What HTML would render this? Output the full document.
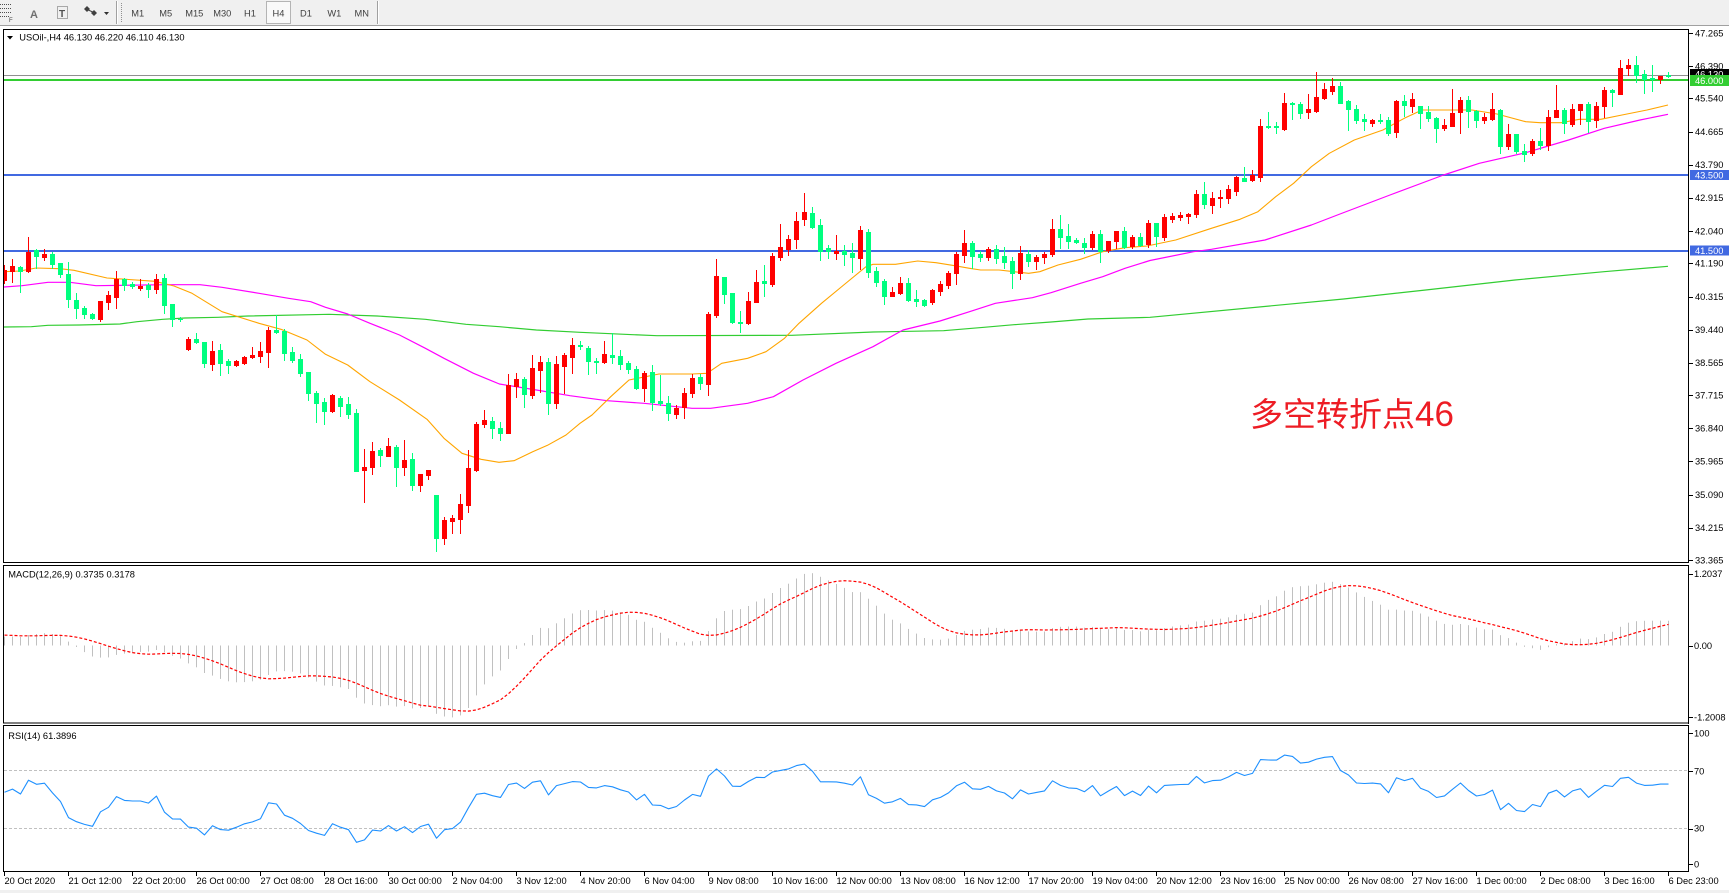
<!DOCTYPE html>
<html><head><meta charset="utf-8"><style>
html,body{margin:0;padding:0;background:#fff;width:1729px;height:893px;overflow:hidden}
svg{display:block}
text{font-family:"Liberation Sans","Noto Sans CJK SC",sans-serif;font-size:9.3px;fill:#000}
.tb{fill:#404040;text-anchor:middle}
</style></head><body>
<svg id="s" width="1729" height="893" viewBox="0 0 1729 893" xmlns="http://www.w3.org/2000/svg">
<defs>
<clipPath id="cm"><rect x="4" y="30" width="1685" height="533"/></clipPath>
<clipPath id="cd"><rect x="4" y="566" width="1685" height="157"/></clipPath>
<clipPath id="cr"><rect x="4" y="726" width="1685" height="146"/></clipPath>
</defs>
<rect x="0" y="0" width="1729" height="893" fill="#fff"/>
<!-- toolbar -->
<rect x="0" y="0" width="1729" height="25" fill="#F0F0F0"/>
<rect x="0" y="25" width="1729" height="1" fill="#A0A0A0"/>
<g stroke="#505050" stroke-width="1" stroke-dasharray="1,1">
<line x1="0" y1="4.5" x2="12" y2="4.5"/><line x1="0" y1="8.5" x2="12" y2="8.5"/><line x1="0" y1="12.5" x2="12" y2="12.5"/><line x1="0" y1="16.5" x2="9" y2="16.5"/>
</g>
<text x="9" y="22" style="font-size:6px;fill:#404040">F</text>
<text x="30" y="18" style="font-size:11px;fill:#707070;font-weight:bold">A</text>
<rect x="57.5" y="6.5" width="10" height="12" fill="none" stroke="#606060" stroke-dasharray="1,1"/>
<text x="59" y="17" style="font-size:10px;fill:#505050;font-weight:bold">T</text>
<polygon points="87,6 90,9 87,12 84,9" fill="#404040"/><polygon points="94,10 97,13 94,16 91,13" fill="#404040"/>
<line x1="86" y1="9" x2="95" y2="13" stroke="#404040"/>
<polygon points="104,12 109,12 106.5,15" fill="#303030"/>
<rect x="116" y="1" width="1" height="23" fill="#A0A0A0"/><rect x="117" y="1" width="1" height="23" fill="#fff"/>
<line x1="121.5" y1="3" x2="121.5" y2="22" stroke="#909090" stroke-dasharray="1,1"/>
<rect x="266.5" y="1.5" width="24" height="22" fill="#F9F9F9" stroke="#B4B4B4"/>
<text class="tb" x="137.7" y="16.5">M1</text>
<text class="tb" x="165.7" y="16.5">M5</text>
<text class="tb" x="194.3" y="16.5">M15</text>
<text class="tb" x="222.3" y="16.5">M30</text>
<text class="tb" x="250" y="16.5">H1</text>
<text class="tb" x="278.5" y="16.5">H4</text>
<text class="tb" x="306" y="16.5">D1</text>
<text class="tb" x="334.3" y="16.5">W1</text>
<text class="tb" x="361.7" y="16.5">MN</text>
<rect x="377" y="1" width="1" height="23" fill="#A0A0A0"/><rect x="378" y="1" width="1" height="23" fill="#fff"/>

<!-- pane frames -->
<rect x="3.5" y="29.5" width="1685" height="533" fill="none" stroke="#000"/>
<rect x="3.5" y="565.5" width="1685" height="157.5" fill="none" stroke="#000"/>
<rect x="3.5" y="725.5" width="1685" height="146" fill="none" stroke="#000"/>

<!-- horizontal levels -->
<rect x="4" y="75" width="1684" height="1" fill="#909090"/>
<rect x="4" y="79" width="1684" height="2" fill="#32CD32"/>
<rect x="4" y="174" width="1684" height="2" fill="#4169E1"/>
<rect x="4" y="250" width="1684" height="2" fill="#4169E1"/>

<g id="main" clip-path="url(#cm)"></g>
<g id="macd" clip-path="url(#cd)">
<rect x="4" y="645" width="0" height="0"/>
</g>
<g id="rsi" clip-path="url(#cr)">
<line x1="4" y1="770.5" x2="1688" y2="770.5" stroke="#C0C0C0" stroke-dasharray="3,2"/>
<line x1="4" y1="828.5" x2="1688" y2="828.5" stroke="#C0C0C0" stroke-dasharray="3,2"/>
</g>

<!-- titles -->
<polygon points="7,36 13,36 10,39.5" fill="#000"/>
<text x="19.3" y="40.5">USOil-,H4  46.130 46.220 46.110 46.130</text>
<text x="8.3" y="577.5">MACD(12,26,9) 0.3735 0.3178</text>
<text x="8.3" y="739">RSI(14) 61.3896</text>

<text x="1250" y="426" style="font-size:33px;fill:#ED1C24">多空转折点<tspan style="font-size:35px">46</tspan></text>

<!-- price axis -->
<g id="ticks" fill="#000"></g>
<g>
<text x="1695" y="36.3">47.265</text>
<text x="1695" y="69.5">46.390</text>
<text x="1695" y="101.7">45.540</text>
<text x="1695" y="134.9">44.665</text>
<text x="1695" y="168">43.790</text>
<text x="1695" y="201.2">42.915</text>
<text x="1695" y="234.4">42.040</text>
<text x="1695" y="266.6">41.190</text>
<text x="1695" y="299.8">40.315</text>
<text x="1695" y="332.9">39.440</text>
<text x="1695" y="366.1">38.565</text>
<text x="1695" y="398.3">37.715</text>
<text x="1695" y="431.5">36.840</text>
<text x="1695" y="464.7">35.965</text>
<text x="1695" y="497.8">35.090</text>
<text x="1695" y="531">34.215</text>
<text x="1695" y="563.3">33.365</text>
</g>
<rect x="1690" y="69" width="39" height="10" fill="#000"/>
<text x="1695" y="77.5" style="fill:#fff">46.130</text>
<rect x="1690" y="75" width="39" height="11" fill="#32CD32"/>
<text x="1695" y="83.8" style="fill:#fff">46.000</text>
<rect x="1690" y="170" width="39" height="10" fill="#4169E1"/>
<text x="1695" y="178.5" style="fill:#fff">43.500</text>
<rect x="1690" y="245.5" width="39" height="10" fill="#4169E1"/>
<text x="1695" y="254" style="fill:#fff">41.500</text>

<text x="1694" y="576.8">1.2037</text>
<text x="1694" y="649.2">0.00</text>
<text x="1694" y="720.5">-1.2008</text>
<text x="1694" y="736.5">100</text>
<text x="1694" y="774.3">70</text>
<text x="1694" y="831.6">30</text>
<text x="1694" y="867.5">0</text>

<!-- date axis -->
<g>
<text x="4.5" y="884">20 Oct 2020</text>
<text x="68.5" y="884">21 Oct 12:00</text>
<text x="132.5" y="884">22 Oct 20:00</text>
<text x="196.5" y="884">26 Oct 00:00</text>
<text x="260.5" y="884">27 Oct 08:00</text>
<text x="324.5" y="884">28 Oct 16:00</text>
<text x="388.5" y="884">30 Oct 00:00</text>
<text x="452.5" y="884">2 Nov 04:00</text>
<text x="516.5" y="884">3 Nov 12:00</text>
<text x="580.5" y="884">4 Nov 20:00</text>
<text x="644.5" y="884">6 Nov 04:00</text>
<text x="708.5" y="884">9 Nov 08:00</text>
<text x="772.5" y="884">10 Nov 16:00</text>
<text x="836.5" y="884">12 Nov 00:00</text>
<text x="900.5" y="884">13 Nov 08:00</text>
<text x="964.5" y="884">16 Nov 12:00</text>
<text x="1028.5" y="884">17 Nov 20:00</text>
<text x="1092.5" y="884">19 Nov 04:00</text>
<text x="1156.5" y="884">20 Nov 12:00</text>
<text x="1220.5" y="884">23 Nov 16:00</text>
<text x="1284.5" y="884">25 Nov 00:00</text>
<text x="1348.5" y="884">26 Nov 08:00</text>
<text x="1412.5" y="884">27 Nov 16:00</text>
<text x="1476.5" y="884">1 Dec 00:00</text>
<text x="1540.5" y="884">2 Dec 08:00</text>
<text x="1604.5" y="884">3 Dec 16:00</text>
<text x="1668.5" y="884">6 Dec 23:00</text>
</g>
<rect x="0" y="890" width="1729" height="3" fill="#F0F0F0"/>
</svg>
<script>
(function(){
var D="1,265,270,280,282.7;1,259,266,270.7,281.7;0,266,267,270.7,291.7;1,236.7,251.7,270.7,271.7;0,249.3,250.3,255.7,268.3;1,249.3,254,256.7,260;0,251.7,254.3,263.7,267.7;0,263,263,273.7,276.7;0,262,274,299.3,306.7;0,293.3,300,307.7,317.7;0,306,308,313.7,318.3;0,313.3,314.3,318,318.7;1,301,301,319,320.7;1,291,295,301.7,308.7;1,271,278.7,296.7,307.7;0,278,279.3,284.7,290;0,282.3,284,285.7,287.7;1,279.3,285.7,287.7,290;0,283.3,284.7,288.7,296.7;1,274,279.3,288.7,293.3;0,274,278,304.7,312.7;0,304,304,319,325.7;0,316.7,318.7,319.3,320.7;1,337,339,349,350;0,333.3,339.3,342,342.7;0,341.7,341.7,362.7,367;1,341,351,363.7,370;0,344,350,362.7,375;0,358.7,361,364.7,373;1,360,361,365,366;1,356,357,363,363.7;1,347,354.7,356.7,357.7;1,342,351,355.7,362;1,327,329.7,351.7,367;0,315.3,329.7,331.7,333.3;0,328.7,330.7,353,360;0,347,352,360,362;0,354,359,372.7,376;0,372,372,393.3,399.7;0,391.3,392.7,402.7,421.7;0,398.3,402,410.7,423.7;1,394,395,410.7,411.7;0,396.3,398.3,405.7,415.7;0,397.3,404,413.7,417.7;0,409.3,412.7,470.7,470.7;1,448.7,467,469.7,501.7;1,442,451,466.7,473.7;0,447.7,449.7,455,466;1,437.7,446,455.7,455.7;0,445,446.7,467.3,485.7;1,440,460,466.7,475;0,453.3,459,484.7,489.7;1,474,474,484.7,490.7;1,470,470,475,478.7;0,495,495,537.7,550.7;1,517.3,520,537.7,544;1,515,517.7,520.7,533.3;1,494,504,518.7,532.7;1,450,468,504.7,511.7;1,421.7,424,470,470.7;1,410,420,423.7,426.7;0,417.3,420.7,427.7,437.7;0,422,427.7,432.7,440;1,373.7,385.3,432.7,432.7;1,373,379,386.3,397;0,377.3,379,393.7,406.7;1,355,368,394.7,397.7;1,356,362,369.7,392;0,357.7,362,402.7,413.7;1,356,364,402.7,407.7;1,353,354.7,365.7,392.7;1,338,345,356.7,372.7;"+
"0,341,344.7,346.3,349.3;0,346,348,360.7,374.3;0,357.7,361.3,362,373.3;1,341,353.7,362,363;0,333.3,355,356.7,362.7;0,350,356,363.7,369.3;0,361.3,363,368.7,372.7;0,366,369,388,389.3;1,371,373,388.3,401;0,365,372,402,410;0,374.7,401,403.3,405;0,396,403.3,413.3,420.3;1,405,408,413.7,418.3;1,388.3,392.7,407.3,417.7;1,374.3,378.3,392.7,396.7;0,373.7,377,382.7,388.7;1,312,313.7,383.7,395;1,259.3,276,315,316.7;0,277,277,293.7,303.3;0,293,293,322,323.3;0,311,321.5,322.5,332;1,292.3,301,323.3,324;1,269.7,282,301.7,302;0,265,281,282.7,296;1,253.3,255.7,284,285.7;1,223.7,247,256.7,260;1,235,239,248.7,255;1,212,221,238.7,248.3;1,192.7,212,218.7,225;0,207,212.7,226.7,228;0,219,225,250.7,260;0,245,248,250.7,257.7;1,235,251,252.7,259.3;0,245,251.3,253.7,265.3;0,243,253.3,257.3,271.7;1,226,230,258.3,269.3;0,229.3,231.7,271.7,276.7;0,267.3,270.7,281.7,286;0,279.3,281,295.7,304;1,287.3,292,296,296;1,277.3,283,293,294;0,277.7,283,299.7,301.3;0,289.7,299,300.7,305.7;0,299,299.7,305,305.7;1,288.7,289.7,302,304;1,281,284,290.7,294.7;1,270.7,273,285,287.7;1,251.7,253.7,273.3,284;1,230,243,254.7,261.7;0,240.7,242.7,256,268.3;0,251,253.7,257,261;1,247.3,249.3,256.7,259.7;0,245,249.3,257.7,262.7;0,247.3,256.3,261.7,268;0,257.3,261,272.7,287.7;1,246,252.7,272.7,278.7;0,250.3,253.7,260.7,265.7;1,254.7,257,260.7,269;1,251.7,253.7,256.7,262.7;1,219,229,254.3,256;0,215,229,236.7,248.3;0,224,236,241,247.7;0,238.3,239.7,241.7,243;0,238.3,243,247,252.7;1,231,234,246.7,249.3;0,230,234,251,261.7;1,241,241,250,251.7;1,231,231,241,248.3;0,226.7,231.3,246.7,247.7;1,235,237,246,247.7;0,232.7,237,245,246;1,220,223.3,244,246.7;"+
"0,223,223,235.7,245.7;1,214.3,217,236.7,240;1,213.3,215.7,218.7,221.7;1,211.7,214.7,216.7,220;1,213.3,214.3,216,223.3;1,190,194,214,216.7;0,182,194,204,208;1,191.7,198,204.7,212.7;1,190,197,198,207;1,185.3,189,197.7,203.3;1,175.7,176.7,191,194.7;0,167,178,180.7,180.7;1,170,175.3,180,180.7;1,119,126,177.3,180.7;0,111.7,125.5,126.5,128.3;0,121.7,126,126.7,132.7;1,92.7,102.7,129,130;0,101.7,102.7,104.3,119;0,101.7,103.7,112.7,117.7;1,94.3,109.3,111.7,117.7;1,71.7,97,111,111.7;1,83.3,89,97.7,99;1,78.3,86,90.7,94;0,82,86,102.7,102.7;0,100,101,108.7,130;0,105,109.3,120,123.3;0,113.7,119,120.7,130;1,119.3,120,122.7,125.7;0,114,120,121,123.3;0,116.7,120,132.7,135;1,100,100.7,131.7,136.7;0,94.7,101,104.7,115.7;1,93,99,106,112.3;0,106,106,113.3,128.3;0,106,112.3,118.3,121;0,116.7,118,128.3,141.7;1,119.3,125.3,127.7,130;1,89,113,126,126;1,97,99.7,112.3,133.3;0,96,100.3,111,126.7;0,110,111,120,126.7;1,113.3,117.3,120,123.3;1,93,109,119,120;0,109,110,146,152.7;1,124.3,134,146,149.3;0,134,134,151,153.3;0,144,151,153.7,160.7;1,139.3,140.7,153.3,155;0,128.3,141,145.3,149.3;1,110,117.3,145,150;1,85,110,116.7,116.7;0,108.3,110,123.3,132.7;1,104.3,109,124.3,125.7;1,103.7,103.7,110,124.3;0,101.7,103.7,121,131.7;1,102,106,120,126.7;1,87.3,90,105.7,117.3;0,89,90,92.3,106;1,60,68,93.5,94;1,59,65,68,75;0,56,65,75,82;0,70,74,79,93;0,65,77.5,78.5,91;1,76,76,79,83;0,72,75,76,77";
var bars=D.split(';').map(function(s){return s.split(',').map(Number);});
var NS="http://www.w3.org/2000/svg";
function X(i){return 4+8*i;}
var orange=[[3.7,271.7],[20,271],[36,268],[60,268.7],[74,270.3],[107,278],[155,281.3],[174,286],[192,293.3],[222,311.7],[259,323.3],[281,329.3],[307,340],[325.5,354.3],[347.7,365],[370,381.7],[399.5,400],[427,419.3],[444,438.3],[462,453.3],[481,459.3],[499,462.3],[514,460.7],[532.7,451.7],[547.5,445.3],[566,435],[580,423.3],[592,415],[610.7,396.7],[629,380],[659,374],[692,374],[707,373.3],[721.7,363.3],[747.6,358.3],[766,351.7],[784.5,338.3],[799,323.3],[821.5,303.3],[843.7,285],[866,266.7],[873,264.3],[895.5,264.3],[917.7,261],[936,262.7],[954.7,265.7],[969.5,268.3],[980.6,270],[999,270],[1014,271.7],[1028.7,273.3],[1039.8,271.7],[1058,265],[1080.5,259.3],[1102.7,251.7],[1125,247.7],[1147,246],[1175.7,240],[1211.4,228.3],[1240,219.3],[1257.9,211.7],[1275.7,196.7],[1293.6,183.3],[1311.4,166.7],[1329.3,153.3],[1354.3,140],[1382.9,130],[1404.3,118.3],[1422,110],[1472,110],[1497,114],[1525.7,121.7],[1540,122.7],[1561.4,122.7],[1579.3,119.3],[1600.7,119.3],[1622,115],[1647,110],[1668,105]];
var magenta=[[3.7,287],[22,285.7],[48,282.3],[70,282.3],[96,285.7],[166.5,284.7],[200,284.7],[222,287.3],[259,293.3],[288.5,298.3],[310.7,301.7],[325.5,307.3],[347.7,314],[370,323.3],[399.5,335],[425.4,348.3],[444,358.3],[473.5,373.3],[499.4,384],[536.4,390],[570,395.7],[607,400.7],[644,403.3],[692,408.3],[710.6,408.3],[747.6,403.3],[773.4,396.7],[803,380],[836,363.3],[873,346.7],[903,330],[940,321],[969.5,311.7],[995.4,303.3],[1032.4,297.7],[1051,292.7],[1080.5,283.3],[1102.7,276.7],[1125,268.3],[1150,260.5],[1193.6,251.7],[1211.4,249.3],[1265,240],[1311.4,225],[1340,214],[1390,195],[1443.6,175],[1479.3,163.3],[1525.7,152.7],[1568.6,140],[1604.3,128.3],[1640,120],[1668,114.3]];
var green=[[3.7,327],[31.4,326.7],[48,325.3],[79.5,325],[120,324],[137,321.7],[162.8,319.3],[185,318],[218,317.3],[248,316],[329,314.3],[377.3,316],[425.4,319.3],[466,324.3],[499.4,326.7],[536.4,330],[580,332.3],[633,334.7],[657,335.7],[792,335.3],[873,332],[943.6,330.7],[984,327.3],[1014,324.7],[1051,322],[1088,319],[1150,317.3],[1343.6,299],[1425.7,290],[1515,280],[1604,271.7],[1668,266.3]];
function pl(pts,col,w,dash){return '<polyline fill="none" stroke="'+col+'" stroke-width="'+(w||1)+'"'+(dash?' stroke-dasharray="'+dash+'"':'')+' stroke-linejoin="round" points="'+pts.map(function(p){return p[0].toFixed(1)+','+p[1].toFixed(1);}).join(' ')+'"/>';}
var h='';
h+=pl(green,'#32CD32',1.2);
h+=pl(magenta,'#FF00FF',1.2);
h+=pl(orange,'#FFA500',1.1);
bars.forEach(function(b,i){
  var cx=X(i),col=b[0]?'#FF0000':'#00FF7F';
  var wt=Math.round(b[1]),bt=Math.round(b[2]),bb=Math.round(b[3]),wb=Math.round(b[4]);
  h+='<rect x="'+cx+'" y="'+wt+'" width="1" height="'+(wb-wt+1)+'" fill="'+col+'"/>';
  h+='<rect x="'+(cx-2)+'" y="'+bt+'" width="5" height="'+Math.max(1,bb-bt+1)+'" fill="'+col+'"/>';
});
document.getElementById('main').innerHTML=h;
// indicators
function P(y){return 47.265-(y-33)/37.91;}
var pre=[];
for(var k=-150;k<0;k++){var base=(k<-12)?(40.94+0.028*(k+12)):(41.0+0.005*k);pre.push(base+0.08*((k&1)?1:-1));}
var closes=pre.concat(bars.map(function(b){return P(b[0]?b[2]:b[3]);}));
var e12=closes[0],e26=closes[0],a12=2/13,a26=2/27,macd=[];
closes.forEach(function(c,i){if(i>0){e12+=a12*(c-e12);e26+=a26*(c-e26);}macd.push(e12-e26);});
var sig=macd.map(function(m,i){if(i<8)return m;var s=0;for(var j=i-8;j<=i;j++)s+=macd[j];return s/9;});
var ag=0,al=0,rsi=[50];
for(var i=1;i<closes.length;i++){var d=closes[i]-closes[i-1],g=d>0?d:0,l=d<0?-d:0;
 if(i<=14){ag+=g/14;al+=l/14;}else{ag=(ag*13+g)/14;al=(al*13+l)/14;}
 rsi[i]=al===0?100:100-100/(1+ag/al);}
var off=pre.length,Z=645.5,S=66;
var mh='',sp=[],rp=[];
for(var i=0;i<bars.length;i++){
  var v=macd[off+i],y=Z-v*S,cx=X(i);
  var y1=Math.min(Z,y),y2=Math.max(Z,y);
  mh+='<rect x="'+cx+'" y="'+y1.toFixed(1)+'" width="1" height="'+Math.max(0.5,y2-y1).toFixed(1)+'" fill="#C0C0C0"/>';
  sp.push([cx+0.5,Z-sig[off+i]*S]);
  rp.push([cx+0.5,871.5-rsi[off+i]*1.44]);
}
mh+=pl(sp,'#FF0000',1.2,'3,2');
document.getElementById('macd').innerHTML=mh;
var rg=document.getElementById('rsi');
rg.innerHTML=rg.innerHTML+pl(rp,'#1E90FF',1.1);
// ticks
var t='';
[33,66.2,98.4,131.6,164.7,197.9,231.1,263.3,296.5,329.6,362.8,395,428.2,461.4,494.5,527.7,560,573.5,645.5,717,733,770.5,828.5,864].forEach(function(y){t+='<rect x="1689" y="'+Math.round(y)+'" width="4" height="1"/>';});
t+='<rect x="1688" y="29" width="1" height="534"/><rect x="1688" y="565" width="1" height="159"/><rect x="1688" y="725" width="1" height="147"/>';
for(var q=0;q<27;q++){t+='<rect x="'+(4+64*q)+'" y="872" width="1" height="4"/>';}
document.getElementById('ticks').innerHTML=t;
})();
</script>
</body></html>
